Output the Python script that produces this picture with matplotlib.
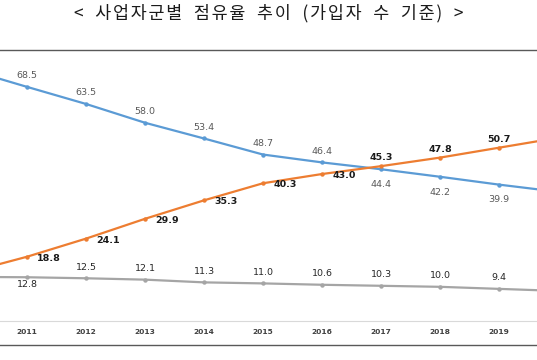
import matplotlib
matplotlib.use("Agg")
import matplotlib.pyplot as plt
from matplotlib.lines import Line2D

plt.rcParams['font.family'] = ['Noto Sans CJK KR', 'DejaVu Sans']

years = [2010, 2011, 2012, 2013, 2014, 2015, 2016, 2017, 2018, 2019, 2020]
tick_years = [2011, 2012, 2013, 2014, 2015, 2016, 2017, 2018, 2019]
blue = [73.6, 68.5, 63.5, 58.0, 53.4, 48.7, 46.4, 44.4, 42.2, 39.9, 37.8]
orange = [14.2, 18.8, 24.1, 29.9, 35.3, 40.3, 43.0, 45.3, 47.8, 50.7, 53.6]
gray = [12.9, 12.8, 12.5, 12.1, 11.3, 11.0, 10.6, 10.3, 10.0, 9.4, 8.8]

title = "< 사업자군별 점유율 추이 (가입자 수 기준) >"

# label placement per labelled year: 'a' above, 'b' below, 'r' right
blue_pos = ['a', 'a', 'a', 'a', 'a', 'a', 'b', 'b', 'b']
orange_pos = ['r', 'r', 'r', 'r', 'r', 'r', 'a', 'a', 'a']
gray_pos = ['b', 'a', 'a', 'a', 'a', 'a', 'a', 'a', 'a']

c_blue = '#5B9BD5'
c_orange = '#ED7D31'
c_gray = '#A5A5A5'

fig = plt.figure(figsize=(5.37, 3.6), dpi=100)
ax = fig.add_axes([0, (360 - 321) / 360, 1, (321 - 50) / 360])

for vals, col in [(blue, c_blue), (orange, c_orange), (gray, c_gray)]:
    ax.plot(years, vals, color=col, lw=1.6, marker='o', ms=3.2,
            markeredgewidth=0, clip_on=True, zorder=3)


def add_labels(vals, pos, color, weight, up, down):
    for yr, v, p in zip(years[1:-1], vals[1:-1], pos):
        if p == 'a':
            off, ha, va = (0, up), 'center', 'center'
        elif p == 'b':
            off, ha, va = (0, -down), 'center', 'center'
        else:
            off, ha, va = (7.5, -1), 'left', 'center'
        ax.annotate(f"{v:.1f}", (yr, v), xytext=off, textcoords='offset points',
                    ha=ha, va=va, fontsize=6.8, color=color,
                    fontweight=weight, family='DejaVu Sans', zorder=4)


add_labels(blue, blue_pos, '#595959', 'normal', 8.0, 11.0)
add_labels(orange, orange_pos, '#1a1a1a', 'bold', 6.2, 8.0)
add_labels(gray, gray_pos, '#262626', 'normal', 8.0, 5.0)

ax.set_xlim(2011 - 27 / 59, 2011 + 510 / 59)
ax.set_ylim(0, 271 / 3.418)
ax.set_xticks(tick_years)
ax.set_xticklabels([str(y) for y in tick_years], fontsize=5.4,
                   fontweight='bold', color='#404040', family='DejaVu Sans')
ax.tick_params(axis='x', length=0, pad=5.5)
ax.set_yticks([])
for s in ['top', 'left', 'right']:
    ax.spines[s].set_visible(False)
ax.spines['bottom'].set_color('#D9D9D9')
ax.spines['bottom'].set_linewidth(0.8)
ax.patch.set_alpha(0)

# frame lines above and below the plot area
fig.add_artist(Line2D([0, 1], [1 - 50 / 360] * 2, color='#595959', lw=1.0))
fig.add_artist(Line2D([0, 1], [1 - 345 / 360] * 2, color='#595959', lw=1.0))

# the original title is set with wide letter spacing
spaced = "\u200a".join(title).replace("\u200a \u200a", "   ")
fig.text(0.5, 1 - 13 / 360, spaced, ha='center', va='center',
         fontsize=12.5, color='#1a1a1a')

fig.savefig("out.png", dpi=100)
